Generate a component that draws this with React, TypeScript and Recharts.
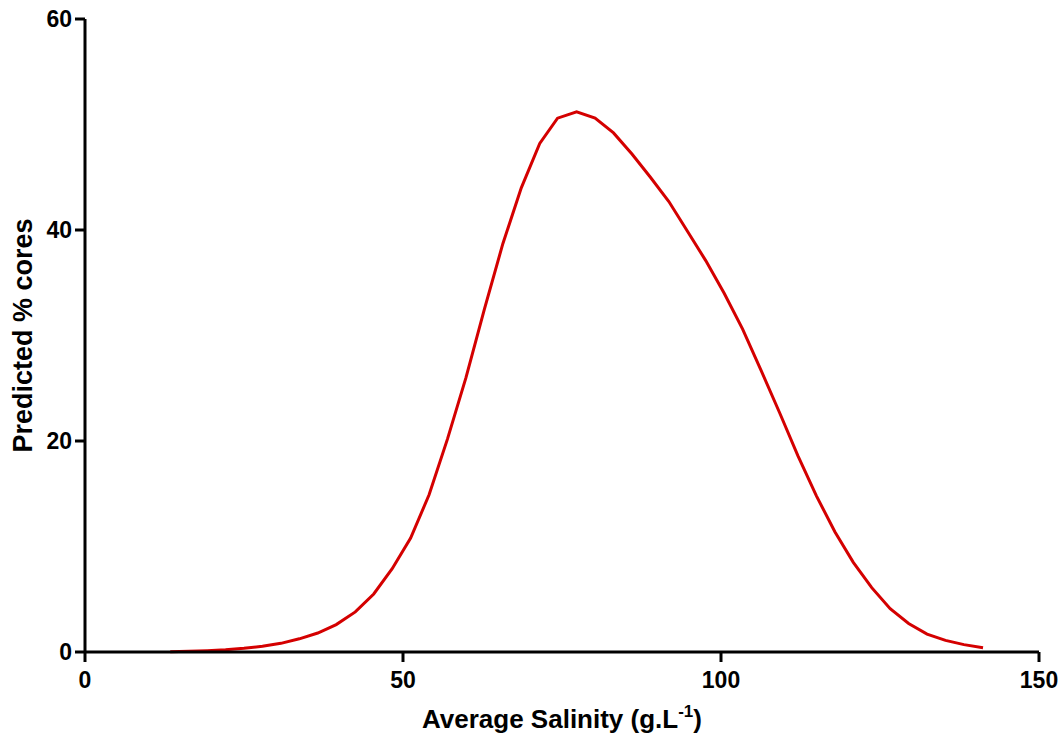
import React from 'react';
import { LineChart, Line, XAxis, YAxis, Label } from 'recharts';

const salinity = [
  13.4, 16.3, 19.2, 22.1, 25.0, 27.9, 30.8, 33.7, 36.6, 39.5,
  42.5, 45.4, 48.3, 51.2, 54.1, 57.0, 59.9, 62.8, 65.7, 68.6,
  71.5, 74.3, 77.3, 80.2, 83.1, 86.0, 88.9, 91.8, 94.7, 97.6,
  100.5, 103.4, 106.3, 109.2, 112.1, 115.0, 117.9, 120.8, 123.7, 126.6,
  129.5, 132.4, 135.3, 138.2, 141.2,
];
const predictedCores = [
  0.03, 0.07, 0.13, 0.22, 0.35, 0.55, 0.82, 1.25, 1.8, 2.6,
  3.8, 5.5, 7.9, 10.8, 14.9, 20.2, 26.0, 32.5, 38.7, 44.0,
  48.2, 50.6, 51.2, 50.6, 49.2, 47.2, 45.0, 42.7, 39.9, 37.1,
  34.0, 30.6, 26.7, 22.7, 18.6, 14.8, 11.4, 8.5, 6.1, 4.1,
  2.7, 1.7, 1.1, 0.7, 0.4,
];
const xTicks = [0, 50, 100, 150];
const yTicks = [0, 20, 40, 60];

const data = salinity.map((s, i) => ({ s, p: predictedCores[i] }));

const FONT = '"Liberation Sans", Arial, Helvetica, sans-serif';

const XTitle = (props: any) => {
  const vb = props.viewBox || {};
  const cx = vb.x + vb.width / 2;
  return (
    <text x={cx} y={728} textAnchor="middle" fontFamily={FONT} fontWeight="bold" fontSize={26} fill="#000">
      Average Salinity (g.L
      <tspan fontSize={17} dy={-11}>-1</tspan>
      <tspan dy={11}>)</tspan>
    </text>
  );
};

const YTitle = (props: any) => {
  const vb = props.viewBox || {};
  const cy = vb.y + vb.height / 2;
  return (
    <text x={32} y={cy} transform={`rotate(-90, 32, ${cy})`} textAnchor="middle" fontFamily={FONT} fontWeight="bold" fontSize={27} fill="#000">
      Predicted % cores
    </text>
  );
};

export default function App() {
  return (
    <div style={{ position: 'absolute', left: 0, top: 0, background: '#fff' }}>
      <LineChart width={1064} height={739} data={data} margin={{ top: 19, right: 25, bottom: 0, left: 0 }}>
        <XAxis
          dataKey="s"
          type="number"
          domain={[0, 150]}
          ticks={xTicks}
          height={87}
          tickSize={10}
          tickMargin={10}
          axisLine={{ stroke: '#000', strokeWidth: 3 }}
          tickLine={{ stroke: '#000', strokeWidth: 3 }}
          tick={{ fill: '#000', fontSize: 23, fontWeight: 'bold', fontFamily: FONT }}
          interval={0}
        >
          <Label content={<XTitle />} />
        </XAxis>
        <YAxis
          type="number"
          domain={[0, 60]}
          ticks={yTicks}
          width={85}
          tickSize={10}
          tickMargin={3}
          axisLine={{ stroke: '#000', strokeWidth: 3 }}
          tickLine={{ stroke: '#000', strokeWidth: 3 }}
          tick={{ fill: '#000', fontSize: 23, fontWeight: 'bold', fontFamily: FONT }}
          interval={0}
        >
          <Label content={<YTitle />} />
        </YAxis>
        <Line
          dataKey="p"
          type="linear"
          stroke="#d40000"
          strokeWidth={3}
          dot={false}
          isAnimationActive={false}
        />
      </LineChart>
    </div>
  );
}
